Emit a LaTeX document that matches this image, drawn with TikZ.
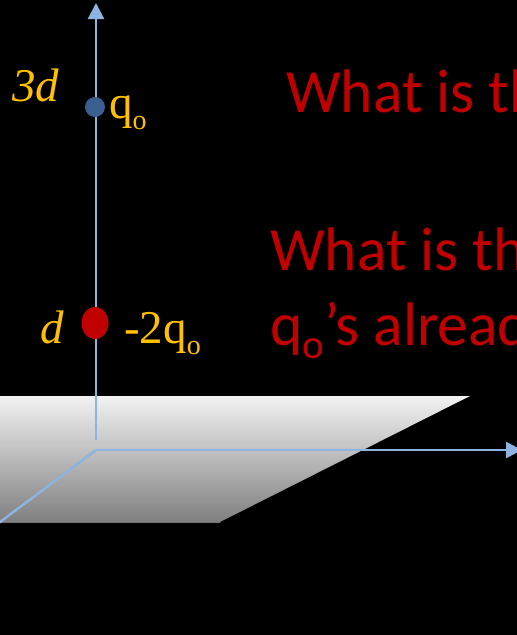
\documentclass[tikz,border=0pt]{standalone}
\usepackage{fontspec}
\setmainfont{Liberation Serif}
\newfontfamily\calib{Carlito}
\usetikzlibrary{arrows.meta,shapes.geometric}
\definecolor{axisblue}{HTML}{8DB3E2}
\definecolor{gold}{HTML}{FFC000}
\definecolor{darkred}{HTML}{C00000}
\definecolor{dotblue}{HTML}{3A5F8F}
\tikzset{
  axis/.style={draw=axisblue, line width=2.5pt},
  tip/.style={-{Triangle[length=16pt,width=16pt]}},
  lbl/.style={text=gold, font=\fontsize{47}{50}\selectfont, inner sep=0pt, anchor=base west},
  question/.style={text=darkred, font=\calib\fontsize{61.5}{72}\selectfont, inner sep=0pt, anchor=base west},
}
\newcommand{\subo}[1]{\raisebox{#1}{\fontsize{28}{30}\selectfont o}}
\begin{document}
\begin{tikzpicture}[x=1pt,y=-1pt]
\useasboundingbox (0,0) rectangle (517,635);
\fill[black] (0,0) rectangle (517,635);
\begin{scope}
\clip (0,0) rectangle (517,635);
% plane
\shade[top color=black!5, bottom color=black!50] (-5,396) -- (470,396) -- (220,522) -- (-5,522) -- cycle;
\draw[black!55, line width=1pt] (-5,522) -- (220,522);
% axes
\coordinate (O) at (96,450);
\coordinate (vb) at (96,440);
\coordinate (vt) at (96,3);
\coordinate (xe) at (522,450);
\coordinate (ze) at (-4,525);
\draw[axis, tip] (vb) -- (vt);
\draw[axis, tip] (O) -- (xe);
\draw[axis] (O) -- (ze);
% charges
\node[circle, fill=dotblue, minimum size=20pt, inner sep=0pt] (q1) at (95,107) {};
\node[ellipse, fill=darkred, minimum width=27pt, minimum height=32pt, inner sep=0pt] (q2) at (95,323) {};
% labels
\node[lbl] (l3d) at (12,101) {\itshape 3d};
\node[lbl] (lq1) at (109,118) {q\subo{-11pt}};
\node[lbl] (ld) at (40,343) {\itshape d};
\node[lbl] (lq2) at (124,343) {-2q\subo{-11pt}};
% questions
\node[question] (t1) at (286,112) {What is th};
\node[question] (t2) at (270,270) {What is th};
\node[question] (t3) at (270,345) {q\raisebox{-13pt}{\fontsize{41}{44}\selectfont o}’s alread};
\end{scope}
\end{tikzpicture}
\end{document}
